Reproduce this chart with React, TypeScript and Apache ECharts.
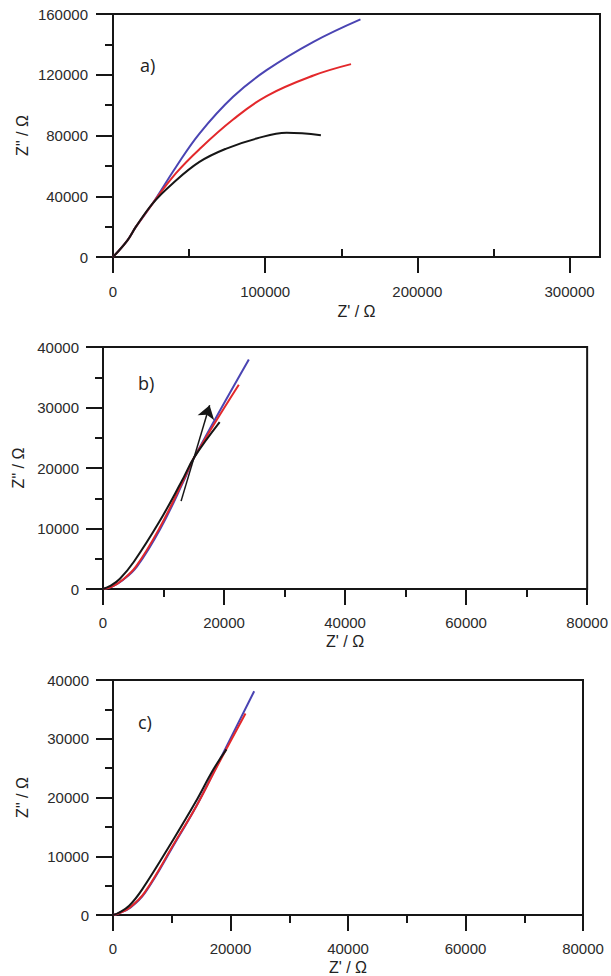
import React, { useEffect, useRef } from "react";
import * as echarts from "echarts";

// Panel a) — full impedance arcs, [Z', Z''] in ohm
const blueA: number[][] = [
  [0, 0], [9500, 11000], [15000, 19800], [26000, 35200], [41400, 59300],
  [56800, 81300], [78900, 105500], [100900, 123000], [131700, 141700], [162600, 156500],
];
const redA: number[][] = [
  [0, 0], [9500, 11000], [15000, 19800], [26000, 35200], [41400, 55200],
  [56800, 71000], [78900, 90500], [100900, 106000], [131700, 119500], [156400, 127000],
];
const blackA: number[][] = [
  [0, 0], [9500, 11000], [15000, 19800], [26000, 35200], [39200, 48400],
  [56800, 62600], [74500, 71400], [94300, 78000], [114100, 81800], [136600, 80200],
];

// Panel b)
const blueB: number[][] = [
  [0, 0], [1500, 400], [3300, 1500], [5600, 3690], [9500, 10000],
  [13400, 18000], [15120, 21840], [24100, 37950],
];
const redB: number[][] = [
  [0, 0], [1500, 400], [3200, 1500], [5430, 3690], [9300, 10000],
  [13300, 18000], [15120, 21840], [22440, 33770],
];
const blackB: number[][] = [
  [0, 0], [1200, 500], [2800, 1700], [5100, 4500], [9300, 11100],
  [13000, 17800], [15120, 21840], [19280, 27600],
];
const arrowB: number[][] = [[12900, 14520], [17620, 30360]];

// Panel c)
const blueC: number[][] = [
  [0, 0], [1000, 300], [3000, 1300], [5500, 3850], [10600, 12340],
  [14200, 18560], [17500, 25070], [24030, 38090],
];
const redC: number[][] = [
  [0, 0], [1000, 300], [2900, 1300], [5400, 3850], [10500, 12340],
  [14200, 18560], [17600, 25070], [22550, 34300],
];
const blackC: number[][] = [
  [0, 0], [900, 340], [2750, 1580], [5000, 4410], [10300, 12900],
  [14000, 19130], [17100, 24790], [19310, 28190],
];

// Tick positions
const xMajorA = [0, 100000, 200000, 300000];
const xMinorA = [50000, 150000, 250000];
const panelLabels = ["a)", "b)", "c)"];

const INK = "#161616";
const LABEL = "#2a2a2a";
const BLUE = "#4a44b3";
const RED = "#e3282b";
const FONT = "Arial, 'Liberation Sans', sans-serif";

const plain = (v: number) => String(v);
const tickLabel = { color: LABEL, fontSize: 15, fontFamily: FONT, margin: 25, formatter: plain };
const axisLine = { show: true, onZero: false, lineStyle: { color: INK, width: 2 } };
const majorTick = { show: true, length: 16, lineStyle: { color: INK, width: 2 } };
const minorTick = { show: true, splitNumber: 2, length: 8, lineStyle: { color: INK, width: 2 } };
const nameStyle = { color: "#222", fontSize: 16, fontFamily: FONT };

function curve(data: number[][], color: string, axis: number, z: number) {
  return {
    type: "line",
    xAxisIndex: axis === 0 ? 0 : axis + 1,
    yAxisIndex: axis,
    data,
    smooth: 0.4,
    showSymbol: false,
    symbol: "none",
    z,
    lineStyle: { color, width: 2 },
  };
}

export default function App() {
  const ref = useRef<HTMLDivElement>(null);

  useEffect(() => {
    if (!ref.current) return;
    const chart = echarts.init(ref.current, undefined, { renderer: "svg" });

    const gridBase = { show: true, borderColor: INK, borderWidth: 2, backgroundColor: "transparent" };

    const option: any = {
      animation: false,
      backgroundColor: "#ffffff",
      grid: [
        { ...gridBase, left: 113, top: 14, width: 487, height: 243 },
        { ...gridBase, left: 103, top: 347, width: 486, height: 242 },
        { ...gridBase, left: 113, top: 680, width: 470, height: 236 },
      ],
      xAxis: [
        {
          gridIndex: 0, type: "value", min: 0, max: 320000,
          axisLine, splitLine: { show: false },
          axisTick: { ...majorTick, customValues: xMajorA },
          axisLabel: { ...tickLabel, margin: 27, customValues: xMajorA },
          name: "Z' / Ω", nameLocation: "middle", nameGap: 46, nameTextStyle: nameStyle,
          nameMoveOverlap: false,
        },
        {
          gridIndex: 0, type: "value", min: 0, max: 320000,
          axisLine: { show: false }, splitLine: { show: false },
          axisTick: { show: true, length: 8, lineStyle: { color: INK, width: 2 }, customValues: xMinorA },
          axisLabel: { show: false },
        },
        {
          gridIndex: 1, type: "value", min: 0, max: 80000, interval: 20000,
          axisLine, axisTick: majorTick, minorTick, splitLine: { show: false },
          axisLabel: { ...tickLabel, margin: 26 },
          name: "Z' / Ω", nameLocation: "middle", nameGap: 44, nameTextStyle: nameStyle,
          nameMoveOverlap: false,
        },
        {
          gridIndex: 2, type: "value", min: 0, max: 80000, interval: 20000,
          axisLine, axisTick: majorTick, minorTick, splitLine: { show: false },
          axisLabel: { ...tickLabel, margin: 26 },
          name: "Z' / Ω", nameLocation: "middle", nameGap: 44, nameTextStyle: nameStyle,
          nameMoveOverlap: false,
        },
      ],
      yAxis: [
        {
          gridIndex: 0, type: "value", min: 0, max: 160000, interval: 40000,
          axisLine, axisTick: { ...majorTick, length: 17 }, minorTick, splitLine: { show: false },
          axisLabel: { ...tickLabel, margin: 25 },
          name: 'Z" / Ω', nameLocation: "middle", nameGap: 83, nameTextStyle: nameStyle,
          nameMoveOverlap: false,
        },
        {
          gridIndex: 1, type: "value", min: 0, max: 40000, interval: 10000,
          axisLine, axisTick: { ...majorTick, length: 17 }, minorTick, splitLine: { show: false },
          axisLabel: { ...tickLabel, margin: 24 },
          name: 'Z" / Ω', nameLocation: "middle", nameGap: 77, nameTextStyle: nameStyle,
          nameMoveOverlap: false,
        },
        {
          gridIndex: 2, type: "value", min: 0, max: 40000, interval: 10000,
          axisLine, axisTick: { ...majorTick, length: 17 }, minorTick, splitLine: { show: false },
          axisLabel: { ...tickLabel, margin: 24 },
          name: 'Z" / Ω', nameLocation: "middle", nameGap: 83, nameTextStyle: nameStyle,
          nameMoveOverlap: false,
        },
      ],
      series: [
        curve(blueA, BLUE, 0, 3),
        curve(redA, RED, 0, 4),
        curve(blackA, INK, 0, 5),
        curve(blueB, BLUE, 1, 3),
        curve(redB, RED, 1, 4),
        curve(blackB, INK, 1, 5),
        {
          type: "lines",
          coordinateSystem: "cartesian2d",
          xAxisIndex: 2,
          yAxisIndex: 1,
          symbol: ["none", "arrow"],
          symbolSize: 13,
          z: 6,
          lineStyle: { color: INK, width: 1.5, opacity: 1 },
          data: [{ coords: arrowB }],
        },
        curve(blueC, BLUE, 2, 3),
        curve(redC, RED, 2, 4),
        curve(blackC, INK, 2, 5),
      ],
      graphic: [
        { type: "text", left: 140, top: 56, style: { text: panelLabels[0], fontSize: 18, fontFamily: "'Open Sans', sans-serif", fill: "#222" } },
        { type: "text", left: 138, top: 374, style: { text: panelLabels[1], fontSize: 18, fontFamily: "'Open Sans', sans-serif", fill: "#222" } },
        { type: "text", left: 138, top: 713, style: { text: panelLabels[2], fontSize: 18, fontFamily: "'Open Sans', sans-serif", fill: "#222" } },
      ],
    };

    chart.setOption(option);
    return () => chart.dispose();
  }, []);

  return (
    <div
      ref={ref}
      style={{ position: "absolute", left: 0, top: 0, width: 611, height: 976 }}
    />
  );
}
